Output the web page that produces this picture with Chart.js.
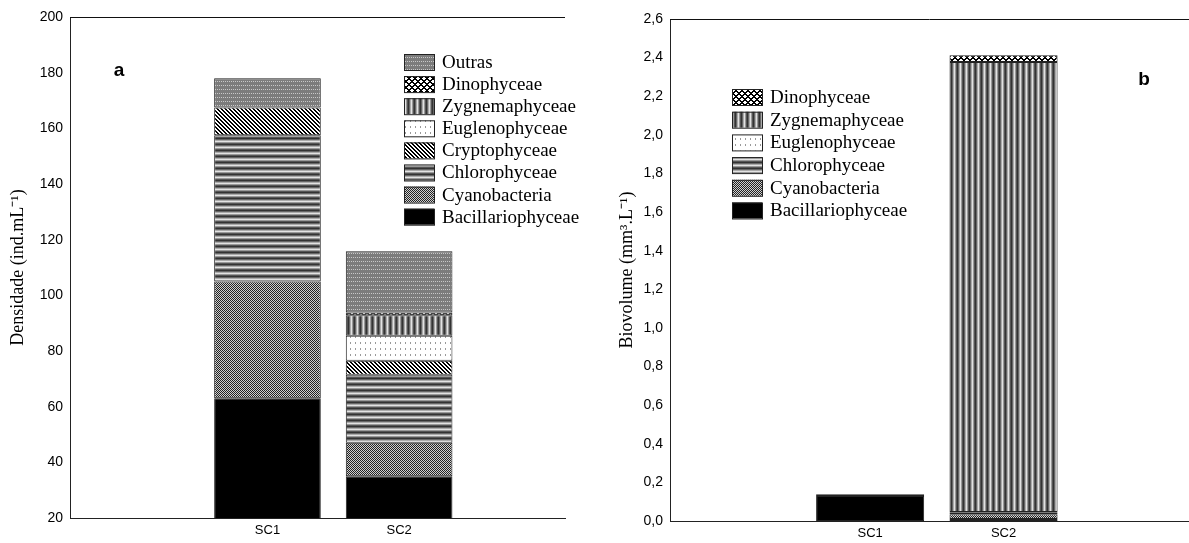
<!DOCTYPE html>
<html>
<head>
<meta charset="utf-8">
<script src="https://cdn.jsdelivr.net/npm/chart.js@4"></script>
<style>
    body { margin: 0; background: #fff; }
    .panel { position: absolute; top: 0; }
    #left { left: 0; }
    #right { left: 615px; }
</style>
</head>
<body>
<div class="panel" id="left"><canvas id="densChart" width="615" height="543"></canvas></div>
<div class="panel" id="right"><canvas id="bioChart" width="574" height="543"></canvas></div>
<script>
// Start Data
const categories = ['SC1', 'SC2'];

// densidade (ind.mL-1)
const densBacillariophyceae = [63, 35];
const densCyanobacteria = [42, 12];
const densChlorophyceae = [52.5, 24.5];
const densCryptophyceae = [10, 5];
const densEuglenophyceae = [0, 9];
const densZygnemaphyceae = [0, 7.3];
const densDinophyceae = [0, 1];
const densOutras = [10.5, 22];
const densTicks = [20, 200, 20];

// biovolume (mm3.L-1)
const bioBacillariophyceae = [0.13, 0.01];
const bioCyanobacteria = [0.005, 0.025];
const bioChlorophyceae = [0.003, 0.008];
const bioEuglenophyceae = [0, 0.004];
const bioZygnemaphyceae = [0, 2.33];
const bioDinophyceae = [0, 0.035];
const bioTicks = [0, 2.6, 0.2];
// !!End Data

// Start Patterns
function makePattern(w, h, bg, paint) {
    const c = document.createElement('canvas');
    c.width = w;
    c.height = h;
    const g = c.getContext('2d');
    g.fillStyle = bg;
    g.fillRect(0, 0, w, h);
    for (let x = 0; x < w; x++) {
        for (let y = 0; y < h; y++) {
            const col = paint(x, y);
            if (col) { g.fillStyle = col; g.fillRect(x, y, 1, 1); }
        }
    }
    return g.createPattern(c, 'repeat');
}

const stripes = ['#333', '#666', '#aaa', '#e2e2e2', '#999', '#555'];
const fills = {
    Bacillariophyceae: '#000',
    Cyanobacteria: makePattern(2, 2, '#cfcfcf', (x, y) => (x + y) % 2 === 0 ? '#222' : null),
    Chlorophyceae: makePattern(1, 6, '#fff', (x, y) => stripes[y]),
    Cryptophyceae: makePattern(4, 4, '#fff', (x, y) => ((x - y) % 4 + 4) % 4 < 2 ? '#000' : null),
    Euglenophyceae: makePattern(5, 6, '#fff', (x, y) => (x === 0 && y < 2) ? '#999' : null),
    Zygnemaphyceae: makePattern(6, 1, '#fff', (x, y) => stripes[x]),
    Dinophyceae: makePattern(6, 6, '#fff', (x, y) => ((x + y) % 6 < 2 || ((x - y) % 6 + 6) % 6 < 2) ? '#000' : null),
    Outras: makePattern(4, 4, '#7c7c7c', (x, y) => (y === 1 && x % 2 === 1) ? '#c8c8c8' : null)
};
// !!End Patterns

// Start Plugins
const panelDecor = {
    id: 'panelDecor',
    afterDraw(chart, args, opts) {
        const ctx = chart.ctx;
        const area = chart.chartArea;
        ctx.save();
        // top frame line
        ctx.strokeStyle = '#111';
        ctx.lineWidth = 1;
        ctx.beginPath();
        ctx.moveTo(area.left, area.top + 0.5);
        ctx.lineTo(area.right, area.top + 0.5);
        ctx.stroke();

        // panel letter
        ctx.fillStyle = '#000';
        ctx.font = 'bold 19px "Liberation Sans", Arial, sans-serif';
        ctx.textAlign = 'center';
        ctx.textBaseline = 'middle';
        ctx.fillText(opts.letter, opts.letterX, opts.letterY);

        // legend, top item = last dataset
        ctx.font = '19px "Liberation Serif", "Times New Roman", serif';
        ctx.textAlign = 'left';
        const sets = chart.data.datasets.slice().reverse();
        sets.forEach(function (ds, i) {
            const y = opts.legendY + i * opts.rowGap;
            ctx.fillStyle = ds.backgroundColor;
            ctx.fillRect(opts.legendX, y - 8, 30, 16);
            ctx.strokeStyle = '#222';
            ctx.strokeRect(opts.legendX + 0.5, y - 7.5, 30, 16);
            ctx.fillStyle = '#000';
            ctx.fillText(ds.label, opts.legendX + 38, y + 1);
        });
        ctx.restore();
    }
};
// !!End Plugins

function buildSets(groups) {
    return groups.map(function (g) {
        return {
            label: g[0],
            data: categories.map((c, i) => ({ x: i + 1, y: g[1][i] })),
            backgroundColor: fills[g[0]],
            borderColor: '#222',
            borderWidth: 1,
            borderSkipped: false,
            categoryPercentage: 1,
            barPercentage: 0.81
        };
    });
}

function makeChart(id, cfg) {
    return new Chart(document.getElementById(id), {
        type: 'bar',
        data: { datasets: buildSets(cfg.groups) },
        plugins: [panelDecor],
        options: {
            responsive: false,
            animation: false,
            layout: { padding: cfg.padding },
            scales: {
                x: {
                    type: 'linear',
                    stacked: true,
                    offset: false,
                    min: -0.5,
                    max: cfg.xMax,
                    afterBuildTicks: function (scale) {
                        scale.ticks = categories.map((c, i) => ({ value: i + 1 }));
                    },
                    afterFit: function (scale) { scale.height = cfg.xHeight; },
                    grid: { display: false, drawTicks: false, offset: false },
                    border: { display: true, color: '#222', width: 1 },
                    ticks: {
                        padding: cfg.xPad,
                        color: '#000',
                        font: { family: '"Liberation Sans", Arial, sans-serif', size: 13 },
                        callback: (v) => categories[v - 1]
                    }
                },
                y: {
                    stacked: true,
                    min: cfg.ticks[0],
                    max: cfg.ticks[1],
                    afterFit: function (scale) { scale.width = cfg.yWidth; },
                    grid: { display: false, drawTicks: false },
                    border: { display: true, color: '#222', width: 1 },
                    ticks: {
                        stepSize: cfg.ticks[2],
                        padding: 7,
                        color: '#000',
                        font: { family: '"Liberation Sans", Arial, sans-serif', size: 14 },
                        callback: cfg.tickFmt
                    },
                    title: {
                        display: true,
                        text: cfg.title,
                        color: '#000',
                        padding: { top: cfg.titlePad, bottom: 0 },
                        font: { family: '"Liberation Serif", "Times New Roman", serif', size: 18 }
                    }
                }
            },
            plugins: {
                legend: { display: false },
                tooltip: { enabled: false },
                panelDecor: cfg.decor
            }
        }
    });
}

// Start Chart a
makeChart('densChart', {
    groups: [
        ['Bacillariophyceae', densBacillariophyceae],
        ['Cyanobacteria', densCyanobacteria],
        ['Chlorophyceae', densChlorophyceae],
        ['Cryptophyceae', densCryptophyceae],
        ['Euglenophyceae', densEuglenophyceae],
        ['Zygnemaphyceae', densZygnemaphyceae],
        ['Dinophyceae', densDinophyceae],
        ['Outras', densOutras]
    ],
    ticks: densTicks,
    tickFmt: (v) => v,
    title: 'Densidade (ind.mL⁻¹)',
    titlePad: 3,
    padding: { left: 4, right: 50, top: 17, bottom: 0 },
    yWidth: 66,
    xHeight: 25,
    xPad: 5,
    xMax: 3.26,
    decor: { letter: 'a', letterX: 119, letterY: 71, legendX: 404, legendY: 62, rowGap: 22.1 }
});
// !!End Chart a

// Start Chart b
makeChart('bioChart', {
    groups: [
        ['Bacillariophyceae', bioBacillariophyceae],
        ['Cyanobacteria', bioCyanobacteria],
        ['Chlorophyceae', bioChlorophyceae],
        ['Euglenophyceae', bioEuglenophyceae],
        ['Zygnemaphyceae', bioZygnemaphyceae],
        ['Dinophyceae', bioDinophyceae]
    ],
    ticks: bioTicks,
    tickFmt: (v) => v.toFixed(1).replace('.', ','),
    title: 'Biovolume (mm³.L⁻¹)',
    titlePad: 1,
    padding: { left: 0, right: 0, top: 19, bottom: 0 },
    yWidth: 55,
    xHeight: 22,
    xPad: 5,
    xMax: 3.39,
    decor: { letter: 'b', letterX: 529, letterY: 80, legendX: 117, legendY: 97, rowGap: 22.7 }
});
// !!End Chart b
</script>
</body>
</html>
